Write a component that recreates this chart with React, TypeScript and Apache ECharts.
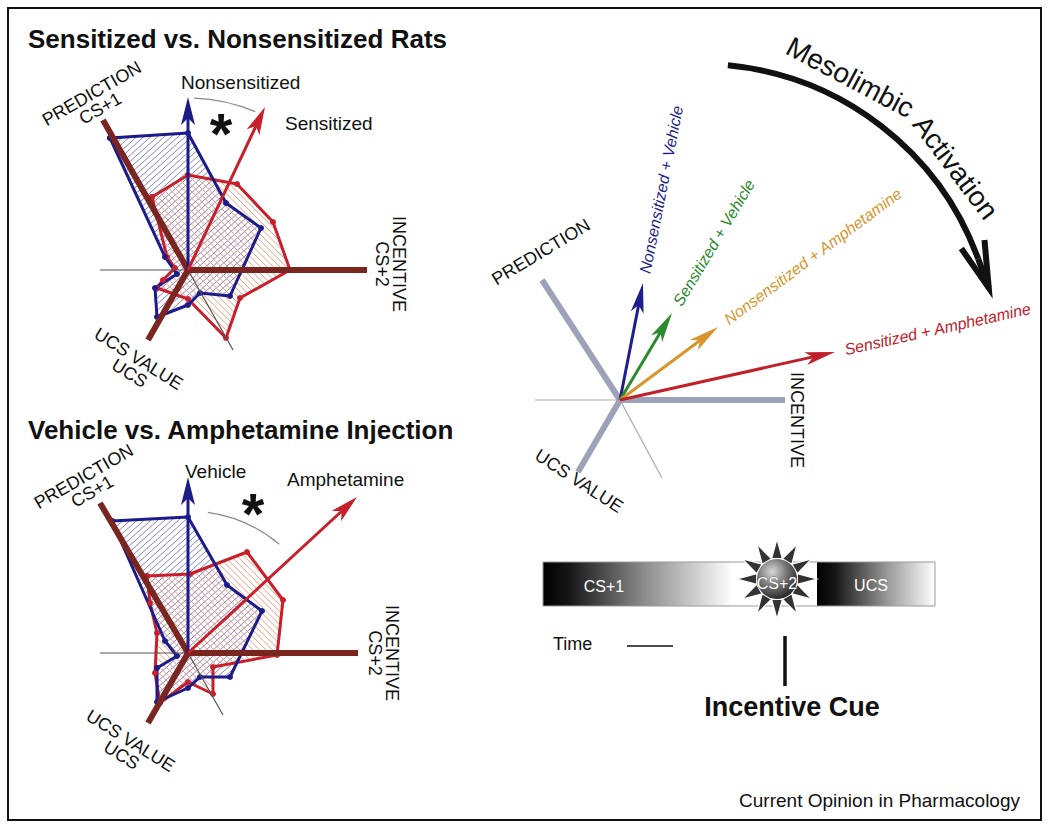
import React, { useEffect, useRef } from "react";
import * as echarts from "echarts";

type P = [number, number];

// ---------- Data (plot units, origin = axes origin, y up) ----------
// Panel A: Sensitized vs. Nonsensitized rats
const nonsensitizedProfile: P[] = [
  [-78, 132], [0, 137], [38, 67], [73, 42], [42, -26], [12, -23],
  [0, -35], [-31, -47], [-33, -18], [-11, -4], [-23, 13],
];
const sensitizedProfile: P[] = [
  [-36, 73], [0, 95], [49, 86], [85, 48], [102, 0], [52, -28],
  [38, -68], [0, -29], [-31, -18], [-25, -10], [-13, 2], [-21, 13],
];
const panelAVectors: P[] = [[0, 173], [77, 163]]; // Nonsensitized, Sensitized
const panelAAxes: P[] = [[-85, 150], [179, 0], [-40, -70]]; // prediction, incentive, UCS value
const panelAGuides: P[] = [[-88, 0], [45, -80]];
const panelAArc: number[] = [172, 67, 88]; // radius, from angle, to angle

// Panel B: Vehicle vs. Amphetamine injection
const vehicleProfile: P[] = [
  [-76, 132], [0, 136], [39, 68], [74, 42], [42, -24], [12, -24],
  [0, -35], [-31, -49], [-31, -15], [-11, -3], [-23, 12],
];
const amphetamineProfile: P[] = [
  [-41, 77], [2, 79], [59, 101], [95, 53], [89, -2], [25, -14],
  [25, -41], [0, -29], [-28, -50], [-33, -20], [-31, 20], [-38, 50],
];
const panelBVectors: P[] = [[0, 176], [169, 156]]; // Vehicle, Amphetamine
const panelBAxes: P[] = [[-88, 150], [170, 0], [-40, -70]];
const panelBGuides: P[] = [[-88, 0], [35, -62]];
const panelBArc: number[] = [142, 50, 82];

// Panel C: incentive vectors
const vectorLabels: string[] = [
  "Nonsensitized + Vehicle",
  "Sensitized + Vehicle",
  "Nonsensitized + Amphetamine",
  "Sensitized + Amphetamine",
];
const vectorEnds: P[] = [[23, 117], [52, 87], [98, 73], [215, 48]];
const panelCAxes: P[] = [[-78, 120], [165, 0], [-42, -72]];
const panelCGuides: P[] = [[-85, 0], [42, -78]];

// Timeline
const timelineLabels: string[] = ["CS+1", "CS+2", "UCS"];

// ---------- Styles ----------
const FONT = '"Liberation Sans", Arial, Helvetica, sans-serif';
const BLUE = "#1b1b8a";
const RED = "#c81f2a";
const BROWN = "#7a2620";
const vectorColors = ["#1e1e8c", "#2b8a2b", "#d8952c", "#c0202a"];

function hatch(pts: number[][], angleDeg: number, step: number): number[][] {
  const a = (angleDeg * Math.PI) / 180;
  const dx = Math.cos(a), dy = -Math.sin(a);
  const nx = -dy, ny = dx;
  let tmin = Infinity, tmax = -Infinity;
  pts.forEach((p) => {
    const t = p[0] * nx + p[1] * ny;
    tmin = Math.min(tmin, t);
    tmax = Math.max(tmax, t);
  });
  const out: number[][] = [];
  for (let t = Math.ceil(tmin / step) * step; t <= tmax; t += step) {
    const ss: number[] = [];
    for (let i = 0; i < pts.length; i++) {
      const p = pts[i], q = pts[(i + 1) % pts.length];
      const tp = p[0] * nx + p[1] * ny, tq = q[0] * nx + q[1] * ny;
      if ((tp <= t && tq > t) || (tq <= t && tp > t)) {
        const u = (t - tp) / (tq - tp);
        const x = p[0] + u * (q[0] - p[0]), y = p[1] + u * (q[1] - p[1]);
        ss.push(x * dx + y * dy);
      }
    }
    ss.sort((m, n) => m - n);
    for (let k = 0; k + 1 < ss.length; k += 2) {
      out.push([t * nx + ss[k] * dx, t * ny + ss[k] * dy, t * nx + ss[k + 1] * dx, t * ny + ss[k + 1] * dy]);
    }
  }
  return out;
}

function hatchSeries(gi: number, pts: P[], angle: number, color: string, z: number) {
  return {
    type: "custom", xAxisIndex: gi, yAxisIndex: gi, z, silent: true, clip: false,
    data: [[0, 0]],
    renderItem: (_p: any, api: any) => {
      const px = pts.map((p) => api.coord(p));
      const segs = hatch(px, angle, 4.6);
      return {
        type: "group",
        children: segs.map((s) => ({
          type: "line",
          shape: { x1: s[0], y1: s[1], x2: s[2], y2: s[3] },
          style: { stroke: color, lineWidth: 1 },
        })),
      };
    },
  };
}

function outlineSeries(gi: number, pts: P[], color: string, z: number) {
  return {
    type: "line", xAxisIndex: gi, yAxisIndex: gi, z, silent: true, clip: false,
    data: [...pts, pts[0]],
    symbol: "circle", symbolSize: 6, showSymbol: true,
    lineStyle: { color, width: 3, join: "round" },
    itemStyle: { color },
  };
}

function segSeries(gi: number, ends: P[], color: string, width: number, z: number) {
  return {
    type: "custom", xAxisIndex: gi, yAxisIndex: gi, z, silent: true, clip: false,
    data: ends.map((e) => [e[0], e[1]]),
    renderItem: (_p: any, api: any) => {
      const o = api.coord([0, 0]);
      const t = api.coord([api.value(0), api.value(1)]);
      return {
        type: "line",
        shape: { x1: o[0], y1: o[1], x2: t[0], y2: t[1] },
        style: { stroke: color, lineWidth: width, lineCap: "butt" },
      };
    },
  };
}

function arrowSeries(
  gi: number, ends: P[], colors: string[], width: number, headLen: number, headW: number, z: number,
  labels?: string[],
) {
  return {
    type: "custom", xAxisIndex: gi, yAxisIndex: gi, z, silent: true, clip: false,
    data: ends.map((e) => [e[0], e[1]]),
    renderItem: (params: any, api: any) => {
      const o = api.coord([0, 0]);
      const t = api.coord([api.value(0), api.value(1)]);
      const dx = t[0] - o[0], dy = t[1] - o[1];
      const L = Math.hypot(dx, dy);
      const ux = dx / L, uy = dy / L;
      const px = -uy, py = ux;
      const bx = t[0] - ux * headLen, by = t[1] - uy * headLen;
      const nxp = bx + ux * headLen * 0.25, nyp = by + uy * headLen * 0.25;
      const c = colors[params.dataIndex % colors.length];
      const children: any[] = [
        { type: "line", shape: { x1: o[0], y1: o[1], x2: nxp, y2: nyp }, style: { stroke: c, lineWidth: width } },
        {
          type: "polygon",
          shape: {
            points: [
              [t[0], t[1]],
              [bx + (px * headW) / 2, by + (py * headW) / 2],
              [nxp, nyp],
              [bx - (px * headW) / 2, by - (py * headW) / 2],
            ],
          },
          style: { fill: c },
        },
      ];
      if (labels) {
        const ang = Math.atan2(-dy, dx);
        const gap = 10;
        children.push({
          type: "text",
          x: t[0] + ux * gap,
          y: t[1] + uy * gap,
          rotation: ang,
          style: {
            text: labels[params.dataIndex], fill: c,
            font: `italic 16px ${FONT}`,
            textAlign: "left", textVerticalAlign: "middle", align: "left", verticalAlign: "middle",
          },
        });
      }
      return { type: "group", children };
    },
  };
}

function arcSeries(gi: number, arc: number[], z: number) {
  return {
    type: "custom", xAxisIndex: gi, yAxisIndex: gi, z, silent: true, clip: false,
    data: [arc],
    renderItem: (_p: any, api: any) => {
      const c = api.coord([0, 0]);
      const rp = api.size([api.value(0), 0])[0];
      return {
        type: "arc",
        shape: {
          cx: c[0], cy: c[1], r: rp,
          startAngle: (-api.value(2) * Math.PI) / 180,
          endAngle: (-api.value(1) * Math.PI) / 180,
          clockwise: true,
        },
        style: { stroke: "#8a8a8a", lineWidth: 1.2, fill: null },
      };
    },
  };
}

function txt(text: string, x: number, y: number, size: number, o: any = {}) {
  const align = o.align || "left";
  const va = o.va || "middle";
  return {
    type: "text", x, y, rotation: ((o.rot || 0) * Math.PI) / 180, z: 100, silent: true,
    style: {
      text, fill: o.fill || "#111",
      font: `${o.italic ? "italic " : ""}${o.bold ? "bold " : ""}${size}px ${FONT}`,
      textAlign: align, textVerticalAlign: va, align, verticalAlign: va,
      lineHeight: o.lh || size,
      stroke: o.stroke, lineWidth: o.sw || 0,
    },
  };
}

function buildStar(cx: number, cy: number) {
  const els: any[] = [];
  const rOut = 40, rIn = 21;
  for (let k = 0; k < 12; k++) {
    const a = ((-90 + 30 * k) * Math.PI) / 180;
    const a1 = a - (15 * Math.PI) / 180, a2 = a + (15 * Math.PI) / 180;
    els.push({
      type: "polygon", z: 101, silent: true,
      shape: {
        points: [
          [cx + rOut * Math.cos(a), cy + rOut * Math.sin(a)],
          [cx + rIn * Math.cos(a1), cy + rIn * Math.sin(a1)],
          [cx + rIn * Math.cos(a2), cy + rIn * Math.sin(a2)],
        ],
      },
      style: { fill: "#333", stroke: "#fff", lineWidth: 1.2 },
    });
  }
  els.push({
    type: "circle", z: 102, silent: true,
    shape: { cx, cy, r: 20 },
    style: {
      fill: {
        type: "radial", x: 0.38, y: 0.32, r: 0.75,
        colorStops: [
          { offset: 0, color: "#d8d8d8" },
          { offset: 0.55, color: "#6a6a6a" },
          { offset: 1, color: "#1c1c1c" },
        ],
      },
    },
  });
  return els;
}

function buildGraphics() {
  const g: any[] = [];
  // frame
  g.push({ type: "rect", z: 100, silent: true, shape: { x: 8, y: 8, width: 1033, height: 812 }, style: { fill: null, stroke: "#111", lineWidth: 2 } });
  // titles
  g.push(txt("Sensitized vs. Nonsensitized Rats", 28, 39, 26, { bold: true }));
  g.push(txt("Vehicle vs. Amphetamine Injection", 28, 430, 26, { bold: true }));

  // Panel A labels
  g.push(txt("PREDICTION\nCS+1", 96, 101, 18, { align: "center", rot: 30, lh: 17 }));
  g.push(txt("INCENTIVE\nCS+2", 390, 264, 18, { align: "center", rot: -90, lh: 17 }));
  g.push(txt("UCS VALUE\nUCS", 134, 366, 18, { align: "center", rot: -32, lh: 17 }));
  g.push(txt("Nonsensitized", 181, 82, 19));
  g.push(txt("Sensitized", 285, 123, 19));
  g.push(txt("*", 221, 133, 58, { bold: true, align: "center" }));

  // Panel B labels
  g.push(txt("PREDICTION\nCS+1", 88, 484, 18, { align: "center", rot: 30, lh: 17 }));
  g.push(txt("INCENTIVE\nCS+2", 383, 653, 18, { align: "center", rot: -90, lh: 17 }));
  g.push(txt("UCS VALUE\nUCS", 126, 748, 18, { align: "center", rot: -32, lh: 17 }));
  g.push(txt("Vehicle", 185, 471, 19));
  g.push(txt("Amphetamine", 287, 479, 19));
  g.push(txt("*", 253, 513, 58, { bold: true, align: "center" }));

  // Panel C labels
  g.push(txt("PREDICTION", 541, 252, 18, { align: "center", rot: 31 }));
  g.push(txt("INCENTIVE", 797, 420, 18, { align: "center", rot: -90 }));
  g.push(txt("UCS VALUE", 579, 481, 18, { align: "center", rot: -33 }));

  // Mesolimbic activation arc arrow
  const acx = 700, acy = 360, ar = 296;
  g.push({
    type: "arc", z: 100, silent: true,
    shape: { cx: acx, cy: acy, r: ar, startAngle: (-84.6 * Math.PI) / 180, endAngle: (-20 * Math.PI) / 180, clockwise: true },
    style: { stroke: "#111", lineWidth: 6, fill: null },
  });
  const endA = (-20 * Math.PI) / 180;
  const ex = acx + ar * Math.cos(endA), ey = acy + ar * Math.sin(endA);
  const tx = ex + 31 * Math.sin(20 * Math.PI / 180), ty = ey + 31 * Math.cos(20 * Math.PI / 180);
  g.push({ type: "line", z: 100, silent: true, shape: { x1: ex, y1: ey, x2: tx, y2: ty }, style: { stroke: "#111", lineWidth: 6 } });
  const back = Math.atan2(-(ty - ey), -(tx - ex));
  const bl = 48;
  const lb = [tx + bl * Math.cos(back - 0.26), ty + bl * Math.sin(back - 0.26)];
  const rb = [tx + bl * Math.cos(back + 0.26), ty + bl * Math.sin(back + 0.26)];
  g.push({
    type: "polyline", z: 100, silent: true,
    shape: { points: [lb, [tx, ty], rb] },
    style: { stroke: "#111", lineWidth: 6, lineJoin: "miter", fill: null },
  });
  g.push(txt("Mesolimbic", acx + 320 * Math.cos((-62 * Math.PI) / 180), acy + 320 * Math.sin((-62 * Math.PI) / 180), 28, { align: "center", rot: -28 }));
  g.push(txt("Activation", acx + 320 * Math.cos((-37 * Math.PI) / 180), acy + 320 * Math.sin((-37 * Math.PI) / 180), 28, { align: "center", rot: -53 }));

  // Timeline bar
  g.push({ type: "rect", z: 100, silent: true, shape: { x: 543, y: 562, width: 392, height: 44 }, style: { fill: "#fff" } });
  g.push({
    type: "rect", z: 100, silent: true, shape: { x: 543, y: 562, width: 205, height: 44 },
    style: {
      fill: {
        type: "linear", x: 0, y: 0, x2: 1, y2: 0,
        colorStops: [
          { offset: 0, color: "#000" }, { offset: 0.12, color: "#141414" },
          { offset: 0.5, color: "#8e8e8e" }, { offset: 0.93, color: "#fff" }, { offset: 1, color: "#fff" },
        ],
      },
    },
  });
  g.push({
    type: "rect", z: 100, silent: true, shape: { x: 817, y: 562, width: 118, height: 44 },
    style: {
      fill: {
        type: "linear", x: 0, y: 0, x2: 1, y2: 0,
        colorStops: [
          { offset: 0, color: "#000" }, { offset: 0.15, color: "#151515" },
          { offset: 0.6, color: "#9a9a9a" }, { offset: 1, color: "#fff" },
        ],
      },
    },
  });
  g.push({ type: "rect", z: 100, silent: true, shape: { x: 543, y: 562, width: 392, height: 44 }, style: { fill: null, stroke: "#999", lineWidth: 1 } });
  g.push(...buildStar(777, 579));
  g.push(txt(timelineLabels[0], 604, 586, 16, { align: "center", fill: "#fff" }));
  g.push({ ...txt(timelineLabels[1], 777, 583, 16, { align: "center", fill: "#fff", stroke: "#555", sw: 0.8 }), z: 103 });
  g.push(txt(timelineLabels[2], 871, 585, 16, { align: "center", fill: "#fff" }));

  g.push(txt("Time", 553, 644, 18));
  g.push({ type: "line", z: 100, silent: true, shape: { x1: 627, y1: 646, x2: 673, y2: 646 }, style: { stroke: "#111", lineWidth: 1.5 } });
  g.push({ type: "line", z: 100, silent: true, shape: { x1: 785, y1: 636, x2: 785, y2: 686 }, style: { stroke: "#111", lineWidth: 3.5 } });
  g.push(txt("Incentive Cue", 792, 707, 27, { bold: true, align: "center" }));

  g.push(txt("Current Opinion in Pharmacology", 1020, 800, 19, { align: "right" }));
  return g;
}

export default function App() {
  const ref = useRef<HTMLDivElement>(null);
  useEffect(() => {
    if (!ref.current) return;
    const chart = echarts.init(ref.current, undefined, { renderer: "svg" });
    const grids = [
      { left: 38, top: 80, width: 340, height: 340 },
      { left: 38, top: 463, width: 340, height: 340 },
      { left: 522, top: 180, width: 340, height: 340 },
    ];
    const xr = [[-150, 190], [-150, 190], [-98, 242]];
    const yr = [[-150, 190], [-150, 190], [-120, 220]];
    const option: any = {
      animation: false,
      backgroundColor: "#fff",
      grid: grids,
      xAxis: xr.map((r, i) => ({ type: "value", gridIndex: i, min: r[0], max: r[1], show: false })),
      yAxis: yr.map((r, i) => ({ type: "value", gridIndex: i, min: r[0], max: r[1], show: false })),
      series: [
        // Panel A
        hatchSeries(0, nonsensitizedProfile, 42, "#8585cc", 1),
        hatchSeries(0, sensitizedProfile, -45, "#eb9f7e", 1),
        outlineSeries(0, sensitizedProfile, RED, 3),
        outlineSeries(0, nonsensitizedProfile, BLUE, 3),
        segSeries(0, panelAGuides, "#555", 1.2, 4),
        segSeries(0, panelAAxes, BROWN, 6, 5),
        arcSeries(0, panelAArc, 5),
        arrowSeries(0, panelAVectors, [BLUE, RED], 3, 28, 14, 6),
        // Panel B
        hatchSeries(1, vehicleProfile, 42, "#8585cc", 1),
        hatchSeries(1, amphetamineProfile, -45, "#eb9f7e", 1),
        outlineSeries(1, amphetamineProfile, RED, 3),
        outlineSeries(1, vehicleProfile, BLUE, 3),
        segSeries(1, panelBGuides, "#555", 1.2, 4),
        segSeries(1, panelBAxes, BROWN, 6, 5),
        arcSeries(1, panelBArc, 5),
        arrowSeries(1, panelBVectors, [BLUE, RED], 3, 28, 14, 6),
        // Panel C
        segSeries(2, panelCGuides, "#aaa", 1.2, 4),
        segSeries(2, panelCAxes, "#9ea2b8", 6, 5),
        arrowSeries(2, vectorEnds, vectorColors, 3, 30, 13, 6, vectorLabels),
      ],
      graphic: { elements: buildGraphics() },
    };
    chart.setOption(option);
    return () => chart.dispose();
  }, []);
  return (
    <div
      ref={ref}
      style={{ position: "fixed", left: 0, top: 0, width: 1050, height: 827, background: "#fff" }}
    />
  );
}
